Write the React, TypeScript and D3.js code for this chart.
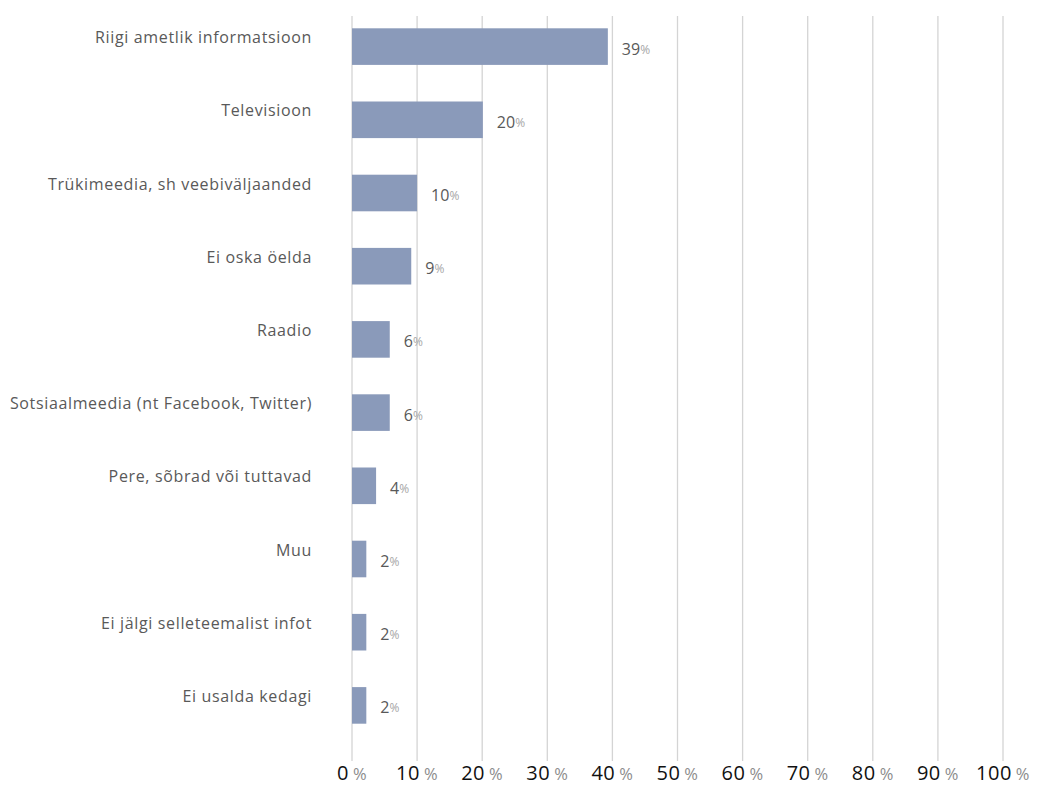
import React from "react";
import * as d3 from "d3";

const categories = [
  "Riigi ametlik informatsioon",
  "Televisioon",
  "Trükimeedia, sh veebiväljaanded",
  "Ei oska öelda",
  "Raadio",
  "Sotsiaalmeedia (nt Facebook, Twitter)",
  "Pere, sõbrad või tuttavad",
  "Muu",
  "Ei jälgi selleteemalist infot",
  "Ei usalda kedagi",
];
const values = [39.3, 20.1, 10, 9.1, 5.8, 5.8, 3.7, 2.2, 2.2, 2.2];
const valueLabels = ["39", "20", "10", "9", "6", "6", "4", "2", "2", "2"];
const ticks = [0, 10, 20, 30, 40, 50, 60, 70, 80, 90, 100];

const W = 1037;
const H = 787;
const FONT = "'Open Sans', 'DejaVu Sans', sans-serif";

export default function App() {
  const x = d3.scaleLinear().domain([0, 100]).range([352, 1003]);
  const y = d3
    .scaleBand<string>()
    .domain(categories)
    .range([10, 742])
    .paddingInner(0.5)
    .paddingOuter(0.25);
  const gridTop = 16;
  const gridBottom = 761;

  return (
    <svg
      width={W}
      height={H}
      style={{ position: "absolute", left: 0, top: 0, background: "#fff" }}
      fontFamily={FONT}
    >
      {ticks.map((t) => (
        <line
          key={"g" + t}
          x1={x(t)}
          x2={x(t)}
          y1={gridTop}
          y2={gridBottom}
          stroke="#d4d4d4"
          strokeWidth={1.3}
        />
      ))}
      {categories.map((c, i) => {
        const yb = y(c)!;
        const bw = y.bandwidth();
        return (
          <g key={c}>
            <rect
              x={x(0)}
              y={yb}
              width={x(values[i]) - x(0)}
              height={bw}
              fill="#8a9aba"
            />
            <text
              x={312}
              y={yb + bw / 2 - 9.5}
              textAnchor="end"
              dominantBaseline="central"
              fontSize={16}
              letterSpacing={0.65}
              fill="#595959"
            >
              {c}
            </text>
            <text
              x={x(values[i]) + 14}
              y={yb + bw / 2 + 2}
              dominantBaseline="central"
              fontSize={16}
              fill="#595959"
            >
              {valueLabels[i]}
              <tspan fontSize={12} fill="#a6a6a6" letterSpacing={-1}>
                %
              </tspan>
            </text>
          </g>
        );
      })}
      {ticks.map((t) => (
        <text
          key={"t" + t}
          x={x(t)}
          y={780}
          textAnchor="middle"
          fontSize={20}
          letterSpacing={0.5}
          fill="#111"
        >
          {t}
          <tspan fontSize={16.5} fill="#8c8c8c" dx={4}>
            %
          </tspan>
        </text>
      ))}
    </svg>
  );
}
